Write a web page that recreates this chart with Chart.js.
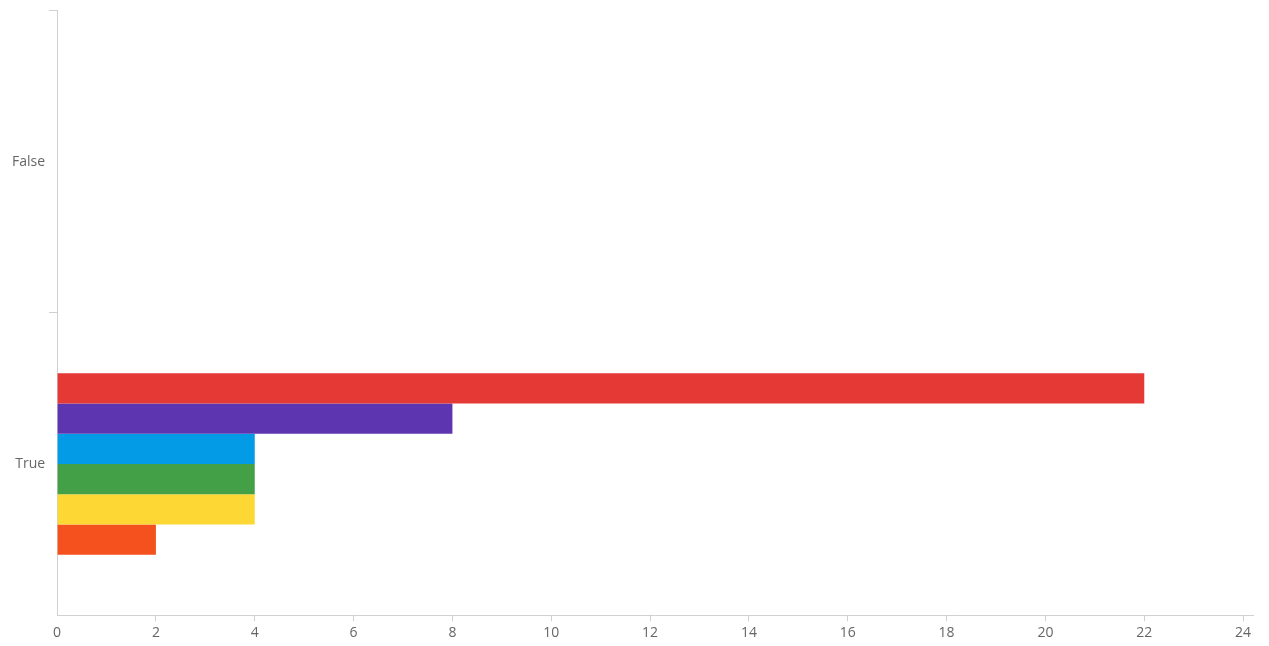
<!DOCTYPE html>
<html>
<head>
<meta charset="utf-8">
<script src="https://cdn.jsdelivr.net/npm/chart.js@4/dist/chart.umd.min.js"></script>
<style>
  html, body { margin: 0; padding: 0; background: #fff; }
  #wrap { width: 1269px; height: 646px; }
</style>
</head>
<body>
<div id="wrap"><canvas id="myChart" width="1269" height="646"></canvas></div>
<script>
// categories and series values
const categories = ["False", "True"];
const seriesNames = ["Series 1", "Series 2", "Series 3", "Series 4", "Series 5", "Series 6"];
const series1 = [0, 22];
const series2 = [0, 8];
const series3 = [0, 4];
const series4 = [0, 4];
const series5 = [0, 4];
const series6 = [0, 2];
const seriesColors = ["#E53935", "#5E35B1", "#039BE5", "#43A047", "#FDD835", "#F4511E"];

const allSeries = [series1, series2, series3, series4, series5, series6];

// build datasets from the arrays
const datasets = allSeries.map((vals, i) => ({
    label: seriesNames[i],
    data: vals,
    backgroundColor: seriesColors[i],
    borderWidth: 0,
    barPercentage: 1.0,
    categoryPercentage: 0.6
}));

const axisColor = "#d0d0d0";
const hidden = "rgba(0,0,0,0)";
const tickFont = { family: "'Open Sans', sans-serif", size: 14 };

const ctx = document.getElementById('myChart').getContext('2d');
new Chart(ctx, {
    type: "bar",
    data: { labels: categories, datasets },
    options: {
        indexAxis: 'y',
        responsive: false,
        animation: false,
        layout: { padding: { top: 3, right: 16, bottom: 2, left: 8 } },
        plugins: {
            legend: { display: false },
            tooltip: { enabled: false }
        },
        scales: {
            x: {
                min: 0,
                max: 24.2,
                grid: {
                    drawOnChartArea: false,
                    // hide the tick mark under the zero line
                    color: (c) => c.index === 0 ? hidden : axisColor,
                    tickLength: 6
                },
                border: { color: axisColor, width: 1 },
                ticks: {
                    stepSize: 2,
                    includeBounds: false,
                    color: "#666",
                    font: tickFont,
                    padding: 3,
                    maxRotation: 0
                }
            },
            y: {
                grid: {
                    drawOnChartArea: false,
                    // no tick mark at the bottom corner
                    color: (c) => c.index === undefined ? hidden : axisColor,
                    tickLength: 8
                },
                border: { color: axisColor, width: 1 },
                ticks: {
                    color: "#666",
                    // tighter line height so the axis can start near the top
                    font: { family: tickFont.family, size: 14, lineHeight: 0.9 },
                    padding: 4
                }
            }
        }
    }
});
</script>
</body>
</html>
